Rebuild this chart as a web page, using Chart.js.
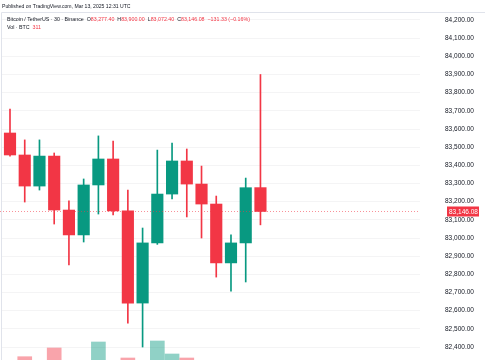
<!DOCTYPE html>
<html>
<head>
<meta charset="utf-8">
<script src="https://cdn.jsdelivr.net/npm/chart.js@4/dist/chart.umd.min.js"></script>
<style>
  html, body { margin: 0; padding: 0; background: #ffffff; }
  #wrap { position: relative; width: 485px; height: 360px; overflow: hidden; font-family: "Liberation Sans", Arial, sans-serif; color: #131722; }
  #wrap canvas { position: absolute; left: 0; top: 0; }
  .txt { position: absolute; white-space: nowrap; line-height: 8px; }
  .red { color: #F23645; }
</style>
</head>
<body>
<div id="wrap">
  <canvas id="chart" width="485" height="360"></canvas>
  <div class="txt" style="left:2px; top:2px; font-size:5.1px;">Published on TradingView.com, Mar 13, 2025 12:31 UTC</div>
  <div class="txt" style="left:7px; top:15px; font-size:5.3px;">Bitcoin / TetherUS · 30 · Binance &nbsp;O<span class="red">83,277.40</span> &nbsp;H<span class="red">83,900.00</span> &nbsp;L<span class="red">83,072.40</span> &nbsp;C<span class="red">83,146.08</span> &nbsp;<span class="red">−131.33 (−0.16%)</span></div>
  <div class="txt" style="left:7px; top:23px; font-size:5.3px;">Vol · BTC &nbsp;<span class="red">311</span></div>
</div>
<script>
// 30分足 (BTC/USDT) - 画像から読み取った値
const opens  = [83578, 83457, 83286, 83451, 83154, 83017, 83292, 83435, 83149, 82642, 82973, 83242, 83424, 83297, 83187, 82863, 82973, 83277.40];
const highs  = [83710, 83540, 83540, 83468, 83204, 83325, 83562, 83534, 83264, 83055, 83484, 83523, 83490, 83396, 83231, 83017, 83330, 83900.00];
const lows   = [83450, 83198, 83264, 83077, 82852, 82978, 83132, 83127, 82532, 82400, 82965, 83215, 83116, 83000, 82785, 82708, 82758, 83072.40];
const closes = [83457, 83286, 83451, 83154, 83017, 83292, 83435, 83149, 82642, 82973, 83242, 83424, 83297, 83187, 82863, 82973, 83277, 83146.08];
const volumes = [300, 363, 320, 450, 280, 290, 510, 310, 350, 320, 520, 390, 350, 300, 290, 250, 280, 311];
const priceTicks = [82400, 82500, 82600, 82700, 82800, 82900, 83000, 83100, 83200, 83300, 83400, 83500, 83600, 83700, 83800, 83900, 84000, 84100, 84200];

const UP = '#089981';
const DOWN = '#F23645';
const UP_VOL = 'rgba(8, 153, 129, 0.45)';
const DOWN_VOL = 'rgba(242, 54, 69, 0.45)';

const isUp = opens.map((o, i) => closes[i] >= o);
const lastClose = closes[closes.length - 1];

const fmt = v => v.toLocaleString('en-US', { minimumFractionDigits: 2, maximumFractionDigits: 2 });

// 枠線・現在値ライン
const overlayPlugin = {
  id: 'overlay',
  beforeDraw(chart) {
    const ctx = chart.ctx;
    ctx.save();
    ctx.strokeStyle = '#e0e3eb';
    ctx.lineWidth = 1;
    ctx.beginPath();
    ctx.moveTo(1.5, 360);
    ctx.lineTo(1.5, 12.5);
    ctx.lineTo(485, 12.5);
    ctx.stroke();
    ctx.restore();
  },
  afterDatasetsDraw(chart) {
    const ctx = chart.ctx;
    const y = Math.round(chart.scales.y.getPixelForValue(lastClose)) + 0.5;
    const area = chart.chartArea;
    ctx.save();
    ctx.strokeStyle = 'rgba(242, 54, 69, 0.55)';
    ctx.lineWidth = 1;
    ctx.setLineDash([1, 2]);
    ctx.beginPath();
    ctx.moveTo(0, y);
    ctx.lineTo(area.right, y);
    ctx.stroke();
    ctx.setLineDash([]);
    ctx.fillStyle = DOWN;
    ctx.fillRect(447, y - 5, 32, 10);
    ctx.fillStyle = '#ffffff';
    ctx.font = '6.5px "Liberation Sans", Arial, sans-serif';
    ctx.textBaseline = 'middle';
    ctx.textAlign = 'left';
    ctx.fillText(fmt(lastClose), 449, y + 0.5);
    ctx.restore();
  }
};

const idx = opens.map((_, i) => i);

new Chart(document.getElementById('chart'), {
  type: 'bar',
  data: {
    datasets: [
      {
        label: 'body',
        order: 1,
        grouped: false,
        data: idx.map(i => ({ x: i, y: [opens[i], closes[i]] })),
        backgroundColor: isUp.map(u => u ? UP : DOWN),
        barThickness: 11.5,
        yAxisID: 'y'
      },
      {
        label: 'wick',
        order: 2,
        grouped: false,
        data: idx.map(i => ({ x: i, y: [lows[i], highs[i]] })),
        backgroundColor: isUp.map(u => u ? UP : DOWN),
        barThickness: 1,
        yAxisID: 'y'
      },
      {
        label: 'Vol',
        order: 3,
        grouped: false,
        data: idx.map(i => ({ x: i, y: volumes[i] })),
        backgroundColor: isUp.map(u => u ? UP_VOL : DOWN_VOL),
        barThickness: 14,
        yAxisID: 'vol'
      }
    ]
  },
  options: {
    responsive: false,
    animation: false,
    events: [],
    layout: { padding: { top: 13, left: 2, right: 0, bottom: 0 } },
    plugins: { legend: { display: false }, tooltip: { enabled: false } },
    scales: {
      x: {
        type: 'linear',
        min: -0.543,
        max: 27.83,
        offset: false,
        display: false
      },
      y: {
        position: 'right',
        min: 82328.6,
        max: 84238.5,
        afterBuildTicks: scale => { scale.ticks = priceTicks.map(v => ({ value: v })); },
        afterFit: scale => {
          scale.width = 65;
          scale.paddingTop = 0;
          scale.paddingBottom = 0;
        },
        grid: { color: 'rgba(42, 46, 57, 0.05)', drawTicks: false },
        border: { display: false },
        ticks: {
          padding: 25,
          color: '#131722',
          font: { size: 6.5, family: '"Liberation Sans", Arial, sans-serif' },
          callback: v => fmt(v)
        }
      },
      vol: {
        display: false,
        min: 330,
        max: 3800
      }
    }
  },
  plugins: [overlayPlugin]
});
</script>
</body>
</html>
